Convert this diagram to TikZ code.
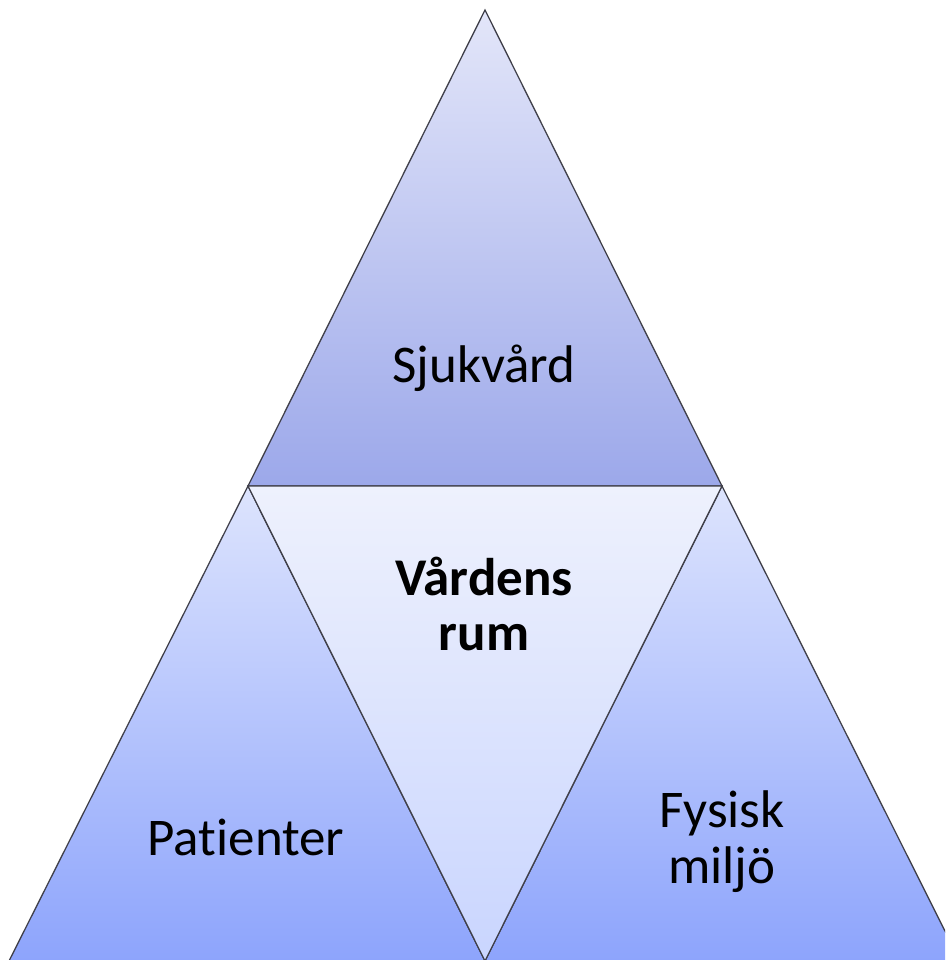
\documentclass[tikz,border=0pt]{standalone}
\usepackage{fontspec}
\setmainfont{Carlito}[RawFeature={-liga;-clig;-dlig;-calt}]
\definecolor{topA}{HTML}{E3E6F9}
\definecolor{topB}{HTML}{9CA8EA}
\definecolor{sideA}{HTML}{DDE4FD}
\definecolor{sideB}{HTML}{8DA4FC}
\definecolor{midA}{HTML}{EEF1FD}
\definecolor{midB}{HTML}{C9D5FE}
\definecolor{edge}{HTML}{40404A}
\tikzset{
  tri/.style={draw=edge, line width=1.3pt, line join=miter},
  lbl/.style={font=\fontsize{53}{56}\selectfont, align=center, text=black, inner sep=0pt, anchor=base},
}
\begin{document}
\begin{tikzpicture}[x=1pt,y=-1pt]
\useasboundingbox (0,0) rectangle (945,960);
\clip (0,0) rectangle (945,960);
\coordinate (T) at (485,10);
\coordinate (L) at (248,486);
\coordinate (R) at (722,486);
\coordinate (BL) at (9,961);
\coordinate (BM) at (485,961);
\coordinate (BR) at (960,961);
\draw[tri, top color=topA, bottom color=topB] (T) -- (L) -- (R) -- cycle;
\draw[tri, top color=sideA, bottom color=sideB] (L) -- (BL) -- (BM) -- cycle;
\draw[tri, top color=sideA, bottom color=sideB] (R) -- (BM) -- (BR) -- cycle;
\draw[tri, top color=midA, bottom color=midB] (L) -- (R) -- (BM) -- cycle;
\node[lbl] (sjuk) at (484,382) {Sjukvård};
\node[lbl, font=\fontsize{53}{55}\selectfont\bfseries] (vard) at (484,650) {Vårdens\\rum};
\node[lbl] (pat) at (246,855) {Patienter};
\node[lbl] (fys) at (722,883) {Fysisk\\miljö};
\end{tikzpicture}
\end{document}
